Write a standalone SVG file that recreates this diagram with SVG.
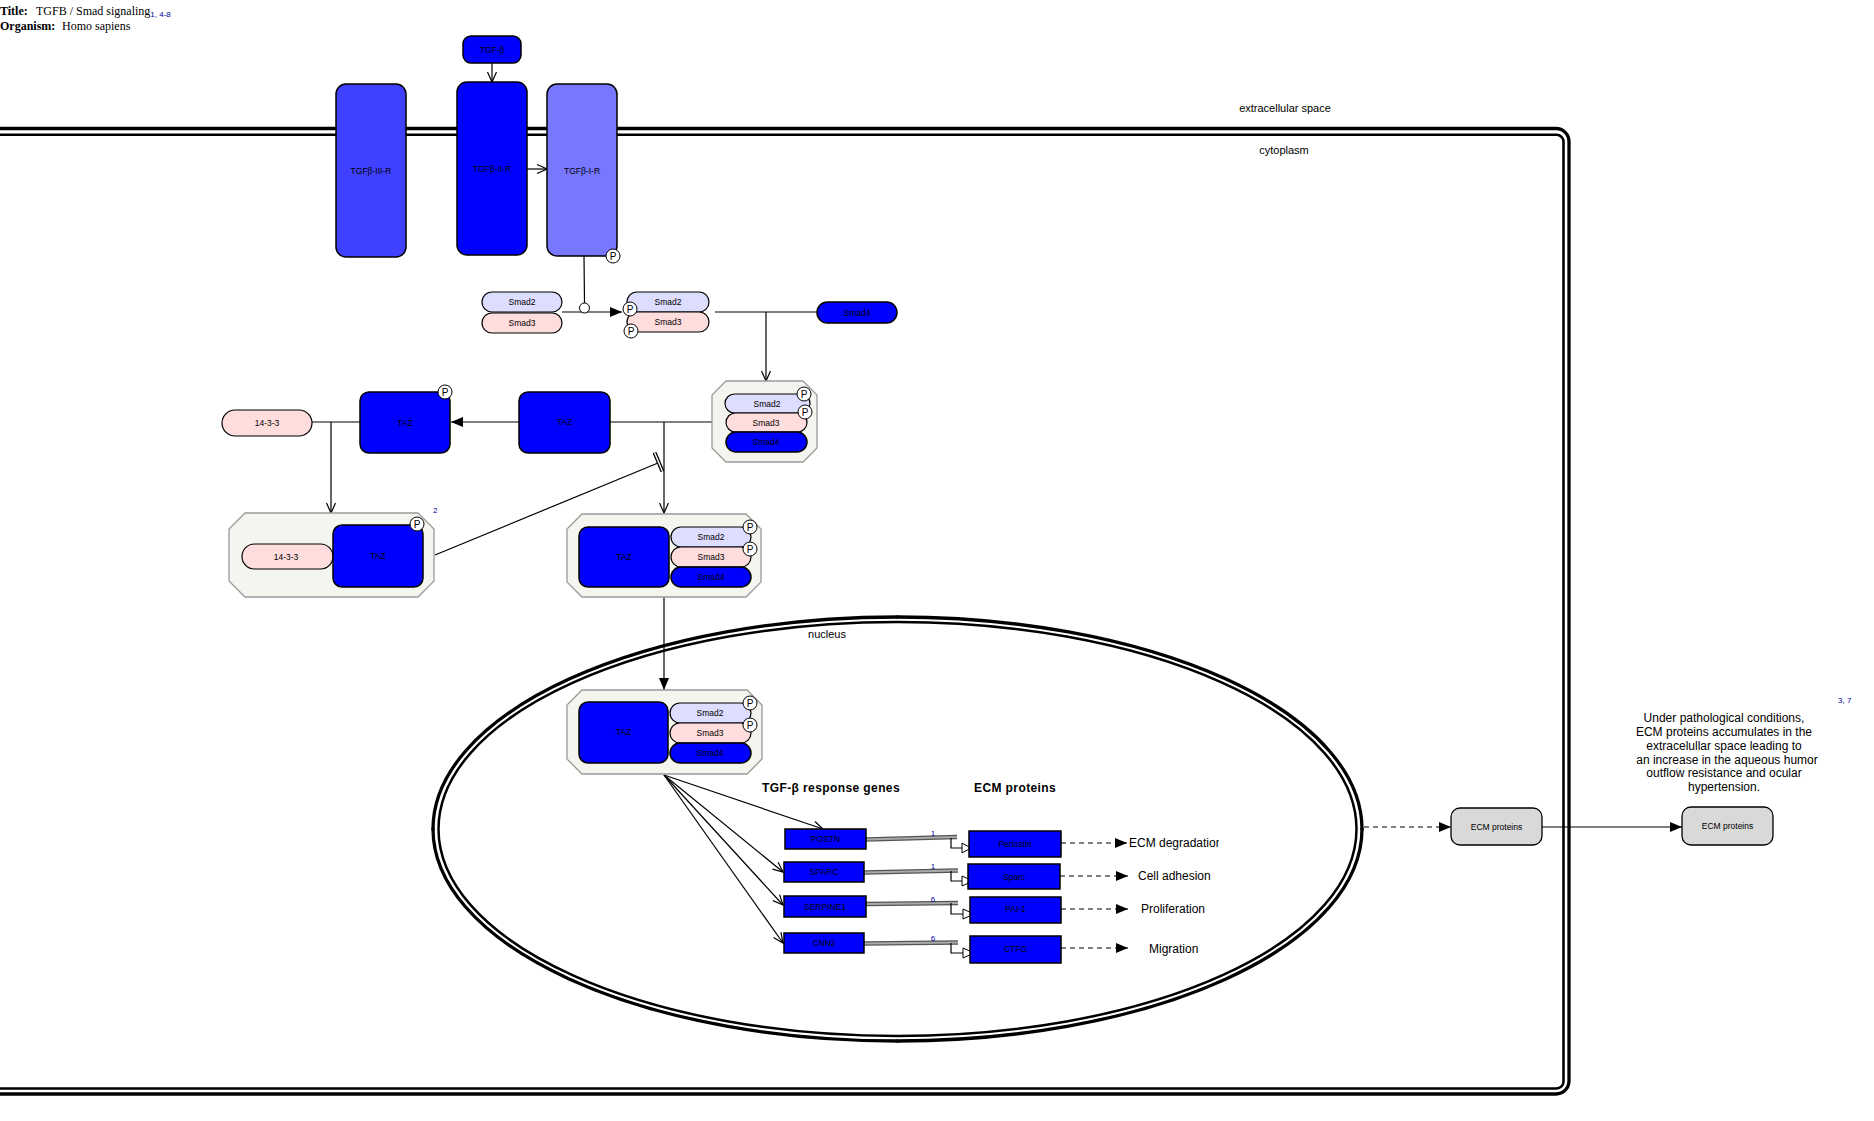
<svg xmlns="http://www.w3.org/2000/svg" width="1874" height="1121" viewBox="0 0 1874 1121">
<defs>
<style>
text{font-family:"Liberation Sans",Arial,sans-serif;fill:#000}
.serif{font-family:"Liberation Serif","Times New Roman",serif;font-size:12px}
.b{font-weight:bold}
.lbl{font-size:8.5px;text-anchor:middle;dominant-baseline:central}
.comp{font-size:11px;text-anchor:middle}
.big{font-size:12px;font-weight:bold;letter-spacing:0.4px}
.txt{font-size:12px}
.ref{font-size:8px;fill:#000099}
.blue{fill:#0000ff;stroke:#000;stroke-width:1.5}
.s2{fill:#ddddff;stroke:#000;stroke-width:1.2}
.s3{fill:#ffdddd;stroke:#000;stroke-width:1.2}
.gray{fill:#d9d9d9;stroke:#000;stroke-width:1.3}
.cx{fill:#f5f5ef;stroke:#999;stroke-width:1.3}
.p{fill:#fff;stroke:#000;stroke-width:1}
.ptxt{font-size:10px;text-anchor:middle;dominant-baseline:central}
.ln{fill:none;stroke:#000;stroke-width:1.2}
.dash{fill:none;stroke:#000;stroke-width:1.2;stroke-dasharray:5 4}
.mem{fill:none;stroke:#000}
.dbo{fill:none;stroke:#555;stroke-width:4.5}
.dbi{fill:none;stroke:#aaa;stroke-width:2}
</style>
<marker id="open" markerUnits="userSpaceOnUse" markerWidth="12" markerHeight="12" viewBox="0 0 12 12" refX="11" refY="6" orient="auto"><path d="M1,1.5 L11,6 L1,10.5" fill="none" stroke="#000" stroke-width="1.2"/></marker>
<marker id="fill" markerUnits="userSpaceOnUse" markerWidth="13" markerHeight="12" viewBox="0 0 13 12" refX="12" refY="6" orient="auto"><path d="M0,1 L12,6 L0,11 z" fill="#000"/></marker>
<clipPath id="clipEcm"><rect x="1120" y="830" width="99" height="25"/></clipPath>
</defs>
<rect x="0" y="0" width="1874" height="1121" fill="#fff"/>

<g id="title">
<text class="serif b" x="0" y="15">Title:</text>
<text class="serif" x="36" y="15">TGFB / Smad signaling<tspan class="ref" font-family="Liberation Sans,Arial,sans-serif" dy="2">1, 4-8</tspan></text>
<text class="serif b" x="0" y="30">Organism:</text>
<text class="serif" x="62" y="30">Homo sapiens</text>
</g>

<g id="membrane">
<path class="mem" stroke-width="3.3" d="M-10,128.5 H1556 A13,13 0 0 1 1569,141.5 V1081 A13,13 0 0 1 1556,1094 H-10"/>
<path class="mem" stroke-width="2.6" d="M-10,134.8 H1556.5 A7,7 0 0 1 1563.5,141.8 V1081.5 A7,7 0 0 1 1556.5,1088.5 H-10"/>
<text class="comp" x="1285" y="112">extracellular space</text>
<text class="comp" x="1284" y="154">cytoplasm</text>
</g>

<g id="nucleus">
<ellipse class="mem" stroke-width="3.3" cx="897.5" cy="829" rx="464.5" ry="212"/>
<ellipse class="mem" stroke-width="2.5" cx="897.5" cy="829" rx="459" ry="207"/>
<circle cx="897.5" cy="617" r="1.8" fill="#000"/>
<circle cx="897.5" cy="1041" r="1.8" fill="#000"/>
<circle cx="433" cy="829" r="1.8" fill="#000"/>
<circle cx="1362" cy="829" r="1.8" fill="#000"/>
<text class="comp" x="827" y="638">nucleus</text>
</g>

<g id="connectors">
<path class="ln" d="M492,63 V82" marker-end="url(#open)"/>
<path class="ln" stroke="#444" d="M527,169 H547" marker-end="url(#open)"/>
<path class="ln" stroke="#555" d="M584,256 L584.5,303"/>
<path class="ln" d="M562,312 H622" marker-end="url(#fill)"/>
<circle cx="584.5" cy="308" r="5" fill="#fff" stroke="#000" stroke-width="1"/>
<path class="ln" d="M715,312 H817"/>
<path class="ln" d="M766,312 V381" marker-end="url(#open)"/>
<path class="ln" d="M610,422 H712"/>
<path class="ln" d="M664,422 V513" marker-end="url(#open)"/>
<path class="ln" d="M519,422 H451" marker-end="url(#fill)"/>
<path class="ln" d="M312,422 H360"/>
<path class="ln" d="M331,422 V513" marker-end="url(#open)"/>
<path class="ln" d="M435,555 L658,463"/>
<path d="M654.5,452.5 L662.5,471.5" stroke="#000" stroke-width="4" fill="none"/>
<path d="M654.5,452.5 L662.5,471.5" stroke="#fff" stroke-width="1.4" fill="none"/>
<path class="ln" d="M664,597 V690" marker-end="url(#fill)"/>
<path class="ln" d="M664,775 L823,829" marker-end="url(#open)"/>
<path class="ln" d="M664,775 L783,872" marker-end="url(#open)"/>
<path class="ln" d="M664,775 L783,905" marker-end="url(#open)"/>
<path class="ln" d="M664,775 L783,943" marker-end="url(#open)"/>

<path class="dbo" d="M866,839.5 L957,837"/><path class="dbi" d="M866,839.5 L957,837"/>
<path class="dbo" d="M864,872.5 L958,870.5"/><path class="dbi" d="M864,872.5 L958,870.5"/>
<path class="dbo" d="M866,904 L958,903"/><path class="dbi" d="M866,904 L958,903"/>
<path class="dbo" d="M864,943.5 L958,942.5"/><path class="dbi" d="M864,943.5 L958,942.5"/>
<path class="ln" d="M951,838 V848 H962"/>
<path class="ln" d="M951,871 V881 H962"/>
<path class="ln" d="M951,903 V914 H963"/>
<path class="ln" d="M951,943 V953 H963"/>
<polygon points="962,843 971,848 962,853" fill="#fff" stroke="#000" stroke-width="1"/>
<polygon points="962,876 973,881 962,886" fill="#fff" stroke="#000" stroke-width="1"/>
<polygon points="963,909 974,914 963,919" fill="#fff" stroke="#000" stroke-width="1"/>
<polygon points="963,948 974,953 963,958" fill="#fff" stroke="#000" stroke-width="1"/>
<text class="ref" x="933" y="836" text-anchor="middle">1</text>
<text class="ref" x="933" y="869" text-anchor="middle">1</text>
<text class="ref" x="933" y="902" text-anchor="middle">6</text>
<text class="ref" x="933" y="941" text-anchor="middle">6</text>

<path class="dash" d="M1061,843 H1127" marker-end="url(#fill)"/>
<path class="dash" d="M1060,876 H1128" marker-end="url(#fill)"/>
<path class="dash" d="M1061,909 H1128" marker-end="url(#fill)"/>
<path class="dash" d="M1061,948 H1128" marker-end="url(#fill)"/>
<path class="dash" d="M1364,827 H1451" marker-end="url(#fill)"/>
<path class="ln" d="M1542,827 H1682" marker-end="url(#fill)"/>
</g>

<g id="TGFb">
<rect class="blue" x="463" y="36" width="58" height="27" rx="8"/>
<text class="lbl" x="492" y="49.5">TGF-β</text>
</g>
<g id="TGFbR3">
<rect x="336" y="84" width="70" height="173" rx="10" fill="#4040ff" stroke="#000" stroke-width="1.5"/>
<text class="lbl" x="371" y="171">TGFβ-III-R</text>
</g>
<g id="TGFbR2">
<rect class="blue" x="457" y="82" width="70" height="173" rx="10"/>
<text class="lbl" x="492" y="169">TGFβ-II-R</text>
</g>
<g id="TGFbR1">
<rect x="547" y="84" width="70" height="172" rx="10" fill="#7777ff" stroke="#000" stroke-width="1.5"/>
<text class="lbl" x="582" y="171">TGFβ-I-R</text>
<circle class="p" cx="613" cy="256" r="7"/><text class="ptxt" x="613" y="256">P</text>
</g>

<g id="Smad23">
<rect class="s2" x="482" y="292" width="80" height="20" rx="10"/>
<text class="lbl" x="522" y="302">Smad2</text>
<rect class="s3" x="482" y="313" width="80" height="20" rx="10"/>
<text class="lbl" x="522" y="323">Smad3</text>
</g>

<g id="pSmad23">
<rect class="s2" x="627" y="292" width="82" height="20" rx="10"/>
<text class="lbl" x="668" y="302">Smad2</text>
<rect class="s3" x="627" y="312" width="82" height="20" rx="10"/>
<text class="lbl" x="668" y="322">Smad3</text>
<circle class="p" cx="630" cy="309" r="7"/><text class="ptxt" x="630" y="309">P</text>
<circle class="p" cx="631" cy="331" r="7"/><text class="ptxt" x="631" y="331">P</text>
</g>

<g id="Smad4">
<rect class="blue" x="817" y="302" width="80" height="21" rx="10.5"/>
<text class="lbl" x="857" y="312.5">Smad4</text>
</g>

<g id="complexSmad">
<path class="cx" d="M726,381 H803 L817,395 V448 L803,462 H726 L712,448 V395 Z"/>
<rect class="s2" x="725" y="394" width="85" height="19" rx="9.5"/>
<text class="lbl" x="767" y="403.5">Smad2</text>
<rect class="s3" x="726" y="413" width="81" height="19" rx="9.5"/>
<text class="lbl" x="766" y="422.5">Smad3</text>
<rect class="blue" x="726" y="432" width="81" height="20" rx="10"/>
<text class="lbl" x="766" y="442">Smad4</text>
<circle class="p" cx="804" cy="394" r="7"/><text class="ptxt" x="804" y="394">P</text>
<circle class="p" cx="805" cy="412" r="7"/><text class="ptxt" x="805" y="412">P</text>
</g>

<g id="TAZ">
<rect class="blue" x="519" y="392" width="91" height="61" rx="9"/>
<text class="lbl" x="564.5" y="422">TAZ</text>
</g>

<g id="pTAZ">
<rect class="blue" x="360" y="392" width="90" height="61" rx="9"/>
<text class="lbl" x="405" y="422.5">TAZ</text>
<circle class="p" cx="445" cy="392" r="7"/><text class="ptxt" x="445" y="392">P</text>
</g>

<g id="n1433">
<rect class="s3" x="222" y="410" width="90" height="26" rx="13"/>
<text class="lbl" x="267" y="423">14-3-3</text>
</g>

<g id="complex1433TAZ">
<path class="cx" d="M245,513 H418 L434,529 V581 L418,597 H245 L229,581 V529 Z"/>
<rect class="s3" x="242" y="544" width="91" height="25" rx="12.5"/>
<text class="lbl" x="286" y="556.5">14-3-3</text>
<rect class="blue" x="333" y="525" width="90" height="62" rx="9"/>
<text class="lbl" x="378" y="556">TAZ</text>
<circle class="p" cx="417" cy="524" r="7"/><text class="ptxt" x="417" y="524">P</text>
<text class="ref" x="433" y="513">2</text>
</g>

<g id="complexTAZSmad">
<path class="cx" d="M582,514 H746 L761,529 V582 L746,597 H582 L567,582 V529 Z"/>
<rect class="blue" x="579" y="527" width="90" height="60" rx="9"/>
<text class="lbl" x="624" y="557">TAZ</text>
<rect class="s2" x="671" y="527" width="80" height="20" rx="10"/>
<text class="lbl" x="711" y="537">Smad2</text>
<rect class="s3" x="671" y="547" width="80" height="20" rx="10"/>
<text class="lbl" x="711" y="557">Smad3</text>
<rect class="blue" x="671" y="567" width="80" height="20" rx="10"/>
<text class="lbl" x="711" y="577">Smad4</text>
<circle class="p" cx="750" cy="527" r="7"/><text class="ptxt" x="750" y="527">P</text>
<circle class="p" cx="750" cy="549" r="7"/><text class="ptxt" x="750" y="549">P</text>
</g>

<g id="complexTAZSmadNuc">
<path class="cx" d="M582,690 H747 L762,705 V759 L747,774 H582 L567,759 V705 Z"/>
<rect class="blue" x="579" y="702" width="89" height="61" rx="9"/>
<text class="lbl" x="623.5" y="732">TAZ</text>
<rect class="s2" x="670" y="703" width="81" height="20" rx="10"/>
<text class="lbl" x="710" y="713">Smad2</text>
<rect class="s3" x="670" y="723" width="81" height="20" rx="10"/>
<text class="lbl" x="710" y="733">Smad3</text>
<rect class="blue" x="670" y="743" width="81" height="20" rx="10"/>
<text class="lbl" x="710" y="753">Smad4</text>
<circle class="p" cx="750" cy="703" r="7"/><text class="ptxt" x="750" y="703">P</text>
<circle class="p" cx="750" cy="725" r="7"/><text class="ptxt" x="750" y="725">P</text>
</g>

<g id="headers">
<text class="big" x="762" y="792">TGF-β response genes</text>
<text class="big" x="974" y="792">ECM proteins</text>
</g>

<g id="POSTN"><rect class="blue" x="785" y="829" width="81" height="20"/><text class="lbl" x="825.5" y="839">POSTN</text></g>
<g id="SPARC"><rect class="blue" x="784" y="862" width="80" height="20"/><text class="lbl" x="824" y="872">SPARC</text></g>
<g id="SERPINE1"><rect class="blue" x="784" y="896" width="82" height="21" stroke-width="2"/><text class="lbl" x="825" y="906.5">SERPINE1</text></g>
<g id="CNN2"><rect class="blue" x="784" y="933" width="80" height="20"/><text class="lbl" x="824" y="943">CNN2</text></g>

<g id="Periostin"><rect class="blue" x="969" y="831" width="92" height="26" stroke-width="2"/><text class="lbl" x="1015" y="844">Periostin</text></g>
<g id="Sparc"><rect class="blue" x="968" y="864" width="92" height="25" stroke-width="2"/><text class="lbl" x="1014" y="876.5">Sparc</text></g>
<g id="PAI1"><rect class="blue" x="970" y="897" width="91" height="26" stroke-width="2"/><text class="lbl" x="1015.5" y="909">PAI-1</text></g>
<g id="CTFG"><rect class="blue" x="970" y="936" width="91" height="27" stroke-width="2"/><text class="lbl" x="1015.5" y="949">CTFG</text></g>

<g id="outcomes">
<text class="txt" x="1129" y="846.5" clip-path="url(#clipEcm)">ECM degradation</text>
<text class="txt" x="1138" y="879.5">Cell adhesion</text>
<text class="txt" x="1141" y="913">Proliferation</text>
<text class="txt" x="1149" y="952.5">Migration</text>
</g>

<g id="ECM1">
<rect class="gray" x="1451" y="808" width="91" height="37" rx="9"/>
<text class="lbl" x="1496.5" y="826.5">ECM proteins</text>
</g>
<g id="ECM2">
<rect class="gray" x="1682" y="807" width="91" height="38" rx="9"/>
<text class="lbl" x="1727.5" y="826">ECM proteins</text>
</g>

<g id="note">
<text class="txt" text-anchor="middle" x="1724" y="722">Under pathological conditions,</text>
<text class="txt" text-anchor="middle" x="1724" y="735.5">ECM proteins accumulates in the</text>
<text class="txt" text-anchor="middle" x="1724" y="749.5">extracelullar space leading to</text>
<text class="txt" text-anchor="middle" x="1727" y="763.5">an increase in the aqueous humor</text>
<text class="txt" text-anchor="middle" x="1724" y="777">outflow resistance and ocular</text>
<text class="txt" text-anchor="middle" x="1724" y="791">hypertension.</text>
<text class="ref" x="1838" y="703">3, 7</text>
</g>
</svg>
